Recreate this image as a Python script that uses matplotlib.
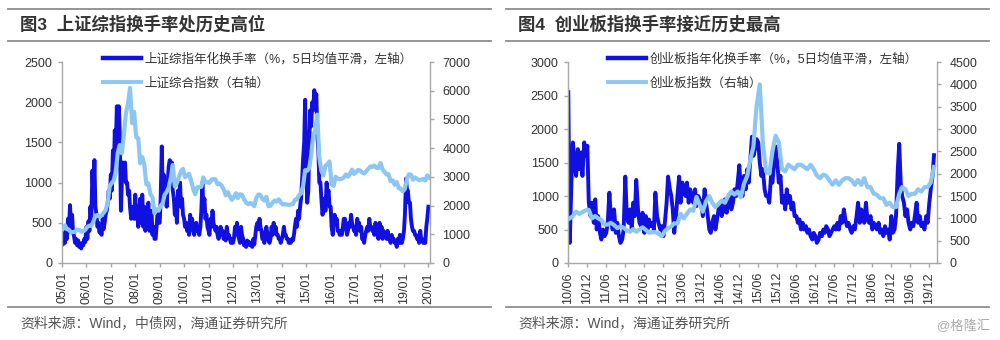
import matplotlib

matplotlib.use("Agg")
import matplotlib.pyplot as plt
import pandas as pd
from matplotlib.lines import Line2D

DARK = "#1010E0"
LIGHT = "#8EC6F2"
RULE = "#8C8C8C"
AXIS = "#A8A8A8"
TEXT = "#333333"
NOTE = "#555555"

# ---- Figure 3: Shanghai Composite, semi-monthly turnover (2005-01 .. 2020-01) ----
SH_TURNOVER = [
    300, 230, 450, 250, 380, 300, 550, 420, 720, 450, 600, 380, 330, 250, 300, 220, 280, 200, 240, 180, 250, 220, 300, 260,
    450, 300, 520, 400, 700, 550, 1150, 800, 1280, 700, 600, 450, 500, 380, 420, 350, 550, 420, 500, 600, 650, 750, 900, 800,
    1100, 900, 1400, 1100, 1650, 1400, 1950, 1700, 1950, 1600, 650, 1000, 1250, 1100, 1250, 1000, 1000, 850, 900, 700, 550, 650, 700, 550,
    850, 550, 700, 450, 650, 800, 500, 850, 450, 700, 400, 600, 550, 750, 400, 550, 650, 350, 450, 300, 300, 450, 650, 500,
    500, 800, 1450, 900, 1100, 800, 900, 700, 1000, 1200, 1280, 1000, 1250, 900, 800, 600, 700, 500, 900, 750, 1000, 700, 800, 600,
    550, 450, 500, 400, 450, 350, 600, 450, 550, 400, 350, 450, 500, 400, 450, 350, 450, 650, 1000, 700, 800, 550, 600, 450,
    400, 350, 550, 450, 650, 500, 450, 400, 450, 350, 300, 400, 450, 350, 400, 300, 350, 280, 450, 350, 350, 300, 250, 300,
    250, 300, 450, 400, 500, 350, 300, 250, 450, 350, 300, 220, 250, 200, 280, 230, 260, 220, 250, 200, 300, 230, 350, 450,
    500, 420, 550, 450, 400, 300, 300, 250, 400, 450, 350, 280, 250, 300, 450, 350, 500, 400, 450, 350, 350, 300, 300, 250,
    300, 350, 450, 350, 350, 300, 300, 250, 280, 250, 300, 280, 350, 450, 550, 450, 650, 550, 700, 800, 1050, 1300, 1500, 2030,
    1200, 750, 900, 1500, 1900, 1700, 2000, 1900, 2150, 2000, 2100, 1600, 1400, 1000, 1000, 800, 600, 700, 800, 650, 1000, 850, 900, 700,
    700, 450, 350, 500, 600, 500, 550, 400, 400, 350, 400, 350, 450, 550, 550, 450, 350, 400, 500, 450, 600, 500, 450, 400,
    400, 350, 550, 450, 500, 400, 450, 300, 300, 250, 350, 400, 450, 400, 550, 450, 450, 400, 400, 350, 500, 400, 350, 300,
    500, 400, 450, 300, 400, 350, 350, 300, 400, 300, 300, 250, 350, 300, 300, 250, 250, 200, 300, 250, 350, 250, 250, 300,
    400, 600, 1050, 900, 900, 750, 750, 550, 450, 400, 400, 350, 350, 300, 300, 250, 400, 300, 300, 250, 250, 250, 450, 550,
    700,
]

# monthly index level (2005-01 .. 2020-01)
SH_INDEX = [
    1190, 1306, 1181, 1159, 1060, 1080, 1083, 1162, 1155, 1092, 1099, 1161,
    1258, 1299, 1299, 1440, 1642, 1672, 1612, 1658, 1752, 1837, 2099, 2675,
    2786, 2881, 3183, 3841, 4109, 3820, 4471, 5218, 5552, 6100, 4871, 5262,
    4383, 4348, 3473, 3693, 3433, 2736, 2775, 2397, 2293, 1729, 1871, 1821,
    1991, 2082, 2373, 2477, 2633, 2959, 3412, 2667, 2779, 2996, 3195, 3277,
    2989, 3051, 3109, 2870, 2592, 2398, 2638, 2639, 2655, 2979, 2820, 2808,
    2790, 2905, 2928, 2911, 2743, 2762, 2701, 2568, 2359, 2468, 2333, 2199,
    2292, 2428, 2262, 2396, 2373, 2225, 2103, 2047, 2086, 2069, 1980, 2269,
    2385, 2365, 2236, 2177, 2301, 1979, 1994, 2098, 2174, 2141, 2220, 2116,
    2033, 2056, 2033, 2026, 2039, 2048, 2201, 2217, 2364, 2420, 2683, 3235,
    3210, 3310, 3748, 4441, 4612, 5170, 3664, 3206, 3053, 3383, 3445, 3539,
    2738, 2688, 3004, 2938, 2917, 2930, 2979, 3085, 3005, 3100, 3250, 3104,
    3159, 3242, 3223, 3155, 3117, 3192, 3273, 3361, 3349, 3393, 3317, 3307,
    3481, 3259, 3169, 3082, 3095, 2847, 2876, 2725, 2821, 2603, 2588, 2494,
    2585, 2941, 3091, 3078, 2899, 2979, 2933, 2886, 2905, 2929, 2871, 3050,
    2977,
]

# ---- Figure 4: ChiNext, semi-monthly turnover (2010-06 .. 2020-01) ----
CYB_TURNOVER = [
    2550, 300, 1200, 1800, 1500, 1300, 1700, 1400, 1650, 1300, 1800, 1600, 1750, 900,
    700, 900, 600, 950, 500, 700, 450, 350, 500, 400, 450, 600, 1050, 700, 500, 800, 450, 600, 400, 300, 350, 500, 1290, 700,
    600, 800, 500, 900, 700, 1240, 800, 600, 550, 750, 450, 700, 500, 650, 550, 600, 500, 1050, 700, 600, 500, 550, 400, 600,
    900, 1290, 1100, 1000, 800, 450, 700, 1000, 1290, 900, 1200, 1100, 1000, 1200, 900, 1100, 1000, 900, 1100, 850, 1000, 950, 900, 700,
    1100, 900, 700, 500, 450, 600, 700, 500, 650, 800, 900, 700, 800, 950, 750, 900, 1000, 800, 900, 1100, 1000, 1200, 1460, 1100,
    1000, 1300, 1100, 1400, 1200, 1500, 1886, 1600, 1700, 1850, 1800, 1500, 1300, 1400, 1100, 1000, 1000, 900, 1300, 1200, 1500, 1740, 1500, 1200,
    1300, 900, 1000, 800, 1100, 900, 1000, 800, 900, 700, 700, 600, 650, 500, 600, 500, 550, 450, 500, 400, 350, 450, 400, 300,
    350, 450, 400, 500, 450, 550, 500, 400, 450, 500, 550, 500, 600, 500, 700, 600, 800, 650, 550, 600, 500, 450, 550, 500,
    700, 900, 600, 800, 700, 600, 900, 650, 600, 700, 500, 600, 550, 500, 600, 450, 500, 400, 550, 450, 500, 350, 700, 450,
    500, 700, 1400, 1780, 1200, 1000, 900, 700, 800, 600, 500, 600, 550, 700, 900, 600, 700, 550, 600, 500, 700, 600, 900, 1100,
    1300, 1610,
]

# monthly index level (2010-06 .. 2020-01)
CYB_INDEX = [
    1000, 1050, 1150, 1100, 1140, 1180, 1190,
    1000, 1050, 1000, 960, 860, 860, 900, 850, 780, 820, 790, 730,
    700, 760, 700, 750, 800, 740, 680, 690, 690, 660, 600, 715,
    780, 820, 890, 880, 1100, 1000, 1100, 1200, 1170, 1480, 1300, 1150,
    1380, 1500, 1350, 1250, 1320, 1400, 1350, 1500, 1600, 1530, 1600, 1470,
    1780, 1950, 2300, 2600, 3500, 4000, 2700, 2050, 2000, 2500, 2850, 2700,
    2100, 2050, 2200, 2150, 2100, 2200, 2200, 2150, 2100, 2200, 2100, 1960,
    1900, 1980, 1950, 1850, 1750, 1850, 1750, 1850, 1900, 1900, 1850, 1750,
    1860, 1750, 1900, 1700, 1700, 1550, 1530, 1450, 1450, 1300, 1350, 1250,
    1250, 1550, 1700, 1650, 1500, 1550, 1550, 1650, 1600, 1700, 1700, 1800,
    2150,
]

SH_LEGEND = ["上证综指年化换手率（%，5日均值平滑，左轴）", "上证综合指数（右轴）"]
CYB_LEGEND = ["创业板指年化换手率（%，5日均值平滑，左轴）", "创业板指数（右轴）"]
SH_TITLE = "图3  上证综指换手率处历史高位"
CYB_TITLE = "图4  创业板指换手率接近历史最高"
SH_SOURCE = "资料来源：Wind，中债网，海通证券研究所"
CYB_SOURCE = "资料来源：Wind，海通证券研究所"


def draw_panel(fig, rect, start, turnover, index, xlim, ticks, left_lim, right_lim, legend, legend_x):
    turn_dates = pd.date_range(start, periods=len(turnover), freq="SMS")
    idx_dates = pd.date_range(start, periods=len(index), freq="MS") + pd.Timedelta(days=14)

    ax = fig.add_axes(rect)
    ax2 = ax.twinx()
    ax.plot(turn_dates, turnover, color=DARK, lw=2.8, solid_joinstyle="round")
    ax2.plot(idx_dates, index, color=LIGHT, lw=3.0, solid_joinstyle="round")

    ax.set_xlim(pd.Timestamp(xlim[0]), pd.Timestamp(xlim[1]))
    ax.set_xticks(ticks)
    ax.set_xticklabels([d.strftime("%y/%m") for d in ticks], rotation=90)
    ax.set_ylim(0, left_lim[0])
    ax.set_yticks(range(0, left_lim[0] + 1, left_lim[1]))
    ax2.set_ylim(0, right_lim[0])
    ax2.set_yticks(range(0, right_lim[0] + 1, right_lim[1]))

    for a in (ax, ax2):
        for spine in a.spines.values():
            spine.set_color(AXIS)
            spine.set_linewidth(1.0)
        a.spines["top"].set_visible(False)
        a.tick_params(colors=AXIS, labelcolor=TEXT, labelsize=9, length=3, width=1.0)
    ax.spines["right"].set_visible(False)
    ax2.spines["left"].set_visible(False)
    ax2.spines["bottom"].set_visible(False)
    ax.tick_params(axis="x", pad=3.5)
    ax.tick_params(axis="y", pad=4)
    ax2.tick_params(axis="y", pad=6)

    handles = [Line2D([], [], color=DARK, lw=3.2), Line2D([], [], color=LIGHT, lw=2.8)]
    ax2.legend(
        handles,
        legend,
        loc="upper left",
        bbox_to_anchor=(legend_x, 1.045),
        frameon=False,
        fontsize=9,
        labelcolor=TEXT,
        handlelength=3.0,
        handletextpad=0.3,
        labelspacing=0.95,
        borderpad=0,
        borderaxespad=0,
    )
    return ax


def add_frame(fig, x0, x1, title, source):
    for y in (8.5, 40.5, 306.5):
        fig.add_artist(Line2D([x0 / 1000, x1 / 1000], [1 - y / 340, 1 - y / 340], color=RULE, lw=1.3))
    fig.text((x0 + 12) / 1000, 1 - 24 / 340, title, fontsize=12.5, fontweight="bold", color=TEXT, va="center")
    fig.text((x0 + 12) / 1000, 1 - 323 / 340, source, fontsize=10, color=NOTE, va="center")


def main():
    plt.rcParams["font.family"] = ["Liberation Sans", "Noto Sans CJK SC"]
    fig = plt.figure(figsize=(10, 3.4), dpi=100)

    sh_ticks = pd.date_range("2005-01-01", "2020-01-01", freq="YS")
    draw_panel(
        fig, [0.062, 0.2265, 0.368, 0.591], "2005-01-01", SH_TURNOVER, SH_INDEX,
        ("2005-01-01", "2020-01-25"), sh_ticks, (2500, 500), (7000, 1000), SH_LEGEND, 0.112,
    )
    cyb_ticks = pd.date_range("2010-06-01", "2019-12-01", freq="6MS")
    draw_panel(
        fig, [0.5683, 0.2265, 0.3684, 0.591], "2010-06-01", CYB_TURNOVER, CYB_INDEX,
        ("2010-06-01", "2020-02-10"), cyb_ticks, (3000, 500), (4500, 500), CYB_LEGEND, 0.108,
    )

    add_frame(fig, 8, 491, SH_TITLE, SH_SOURCE)
    add_frame(fig, 506, 989, CYB_TITLE, CYB_SOURCE)
    fig.text(0.990, 1 - 326 / 340, "@格隆汇", fontsize=9.5, color="#AAAAAA", ha="right", va="center")

    fig.savefig("out.png", dpi=100)
    plt.close(fig)


if __name__ == "__main__":
    main()
